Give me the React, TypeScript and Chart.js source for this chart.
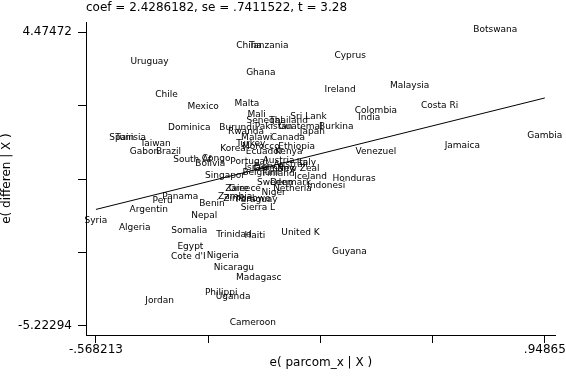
import React, { useEffect, useRef } from 'react';
import { Chart, registerables } from 'chart.js';

Chart.register(...registerables);

const countries = [
  'Botswana', 'China', 'Tanzania', 'Cyprus', 'Uruguay', 'Ghana', 'Ireland', 'Malaysia',
  'Chile', 'Mexico', 'Malta', 'Costa Ri', 'Colombia', 'India', 'Sri Lank', 'Mali',
  'Senegal', 'Thailand', 'Pakistan', 'Guatemal', 'Burkina', 'Dominica', 'Burundi', 'Rwanda',
  'Japan', 'Malawi', 'Canada', 'Spain', 'Tunisia', 'Gambia', 'Taiwan', 'Turkey',
  'Jamaica', 'Korea', 'Morocco', 'Ethiopia', 'Gabon', 'Brazil', 'Venezuel', 'Ecuador',
  'Kenya', 'South Af', 'Congo', 'Bolivia', 'Portugal', 'Austria', 'Italy', 'Australi',
  'France', 'Israel', 'Germany', 'New Zeal', 'Belgium', 'Finland', 'Singapor', 'Iceland',
  'Honduras', 'Sweden', 'Denmark', 'Indonesi', 'Greece', 'Zaire', 'Netherla', 'Niger',
  'Panama', 'Zambia', 'Zimbabwe', 'Paraguay', 'Peru', 'Benin', 'Sierra L', 'Argentin',
  'Nepal', 'Syria', 'Algeria', 'Somalia', 'United K', 'Trinidad', 'Haiti', 'Egypt',
  'Guyana', "Cote d'I", 'Nigeria', 'Nicaragu', 'Madagasc', 'Philippi', 'Uganda', 'Jordan',
  'Cameroon',
];

const residX = [
  0.781, -0.051, 0.016, 0.291, -0.387, -0.011, 0.257, 0.492,
  -0.330, -0.206, -0.058, 0.593, 0.378, 0.355, 0.150, -0.025,
  0.002, 0.083, 0.032, 0.123, 0.244, -0.253, -0.092, -0.061,
  0.163, -0.025, 0.080, -0.481, -0.451, 0.94865, -0.367, -0.045,
  0.670, -0.105, -0.011, 0.110, -0.404, -0.323, 0.378, 0.000,
  0.083, -0.243, -0.162, -0.182, -0.051, 0.049, 0.143, 0.0895,
  0.016, -0.025, 0.032, 0.116, -0.011, 0.049, -0.132, 0.157,
  0.304, 0.036, 0.0895, 0.210, -0.065, -0.092, 0.096, 0.032,
  -0.283, -0.098, -0.058, -0.025, -0.343, -0.176, -0.021, -0.390,
  -0.202, -0.568213, -0.437, -0.253, 0.123, -0.102, -0.031, -0.249,
  0.288, -0.256, -0.139, -0.102, -0.018, -0.145, -0.105, -0.353,
  -0.038,
];

const residY = [
  4.47472, 3.946, 3.946, 3.616, 3.418, 3.054, 2.493, 2.625,
  2.327, 1.931, 2.030, 1.964, 1.799, 1.567, 1.601, 1.667,
  1.468, 1.468, 1.270, 1.270, 1.270, 1.237, 1.237, 1.105,
  1.105, 0.907, 0.907, 0.907, 0.907, 0.973, 0.709, 0.709,
  0.643, 0.543, 0.610, 0.610, 0.445, 0.445, 0.445, 0.445,
  0.445, 0.180, 0.213, 0.048, 0.114, 0.147, 0.081, 0.015,
  -0.051, -0.084, -0.117, -0.117, -0.250, -0.283, -0.349, -0.382,
  -0.448, -0.580, -0.580, -0.679, -0.778, -0.778, -0.778, -0.910,
  -1.042, -1.042, -1.108, -1.141, -1.175, -1.274, -1.406, -1.472,
  -1.670, -1.835, -2.066, -2.166, -2.232, -2.298, -2.331, -2.694,
  -2.859, -3.025, -2.992, -3.388, -3.718, -4.214, -4.346, -4.478,
  -5.22294,
];

const fitX = [-0.568213, 0.94865];
const fitY = [-1.37997, 2.30391];

const xTickValues = [-0.568213, -0.188997, 0.190218, 0.569434, 0.94865];
const xTickLabels = ['-.568213', '', '', '', '.94865'];
const yTickValues = [-5.22294, -2.798525, -0.37411, 2.050305, 4.47472];
const yTickLabels = ['-5.22294', '', '', '', '4.47472'];

const titleText = 'coef = 2.4286182, se = .7411522, t = 3.28';
const xTitle = 'e( parcom_x | X )';
const yTitle = 'e( differen | X )';

const FONT = '"DejaVu Sans", sans-serif';

const labelPlugin = {
  id: 'countryLabels',
  afterDatasetsDraw(chart: any) {
    const meta = chart.getDatasetMeta(0);
    const ctx = chart.ctx;
    ctx.save();
    ctx.font = `9px ${FONT}`;
    ctx.fillStyle = '#000';
    ctx.textAlign = 'center';
    ctx.textBaseline = 'middle';
    meta.data.forEach((el: any, i: number) => {
      ctx.fillText(countries[i], el.x, el.y - 3);
    });
    ctx.restore();
  },
};

const titlePlugin = {
  id: 'topTitle',
  afterDraw(chart: any) {
    const ctx = chart.ctx;
    ctx.save();
    ctx.font = `12px ${FONT}`;
    ctx.fillStyle = '#000';
    ctx.textAlign = 'left';
    ctx.textBaseline = 'middle';
    ctx.fillText(titleText, chart.chartArea.left, 8);
    ctx.restore();
  },
};

export default function App() {
  const ref = useRef<HTMLCanvasElement | null>(null);

  useEffect(() => {
    document.body.style.margin = '0';
    const canvas = ref.current;
    if (!canvas) return;
    const chart = new Chart(canvas, {
      type: 'scatter',
      data: {
        datasets: [
          {
            data: countries.map((_, i) => ({ x: residX[i], y: residY[i] })),
            pointRadius: 0,
            pointHoverRadius: 0,
            backgroundColor: 'transparent',
            borderColor: 'transparent',
          },
          {
            type: 'line',
            data: fitX.map((x, i) => ({ x, y: fitY[i] })),
            borderColor: '#000',
            borderWidth: 1,
            pointRadius: 0,
            fill: false,
          } as any,
        ],
      },
      options: {
        animation: false,
        responsive: false,
        devicePixelRatio: 1,
        events: [],
        layout: { padding: { top: 22, right: 7, left: 0, bottom: 0 } },
        plugins: {
          legend: { display: false },
          tooltip: { enabled: false },
          title: { display: false },
        },
        scales: {
          x: {
            type: 'linear',
            min: -0.60177,
            max: 0.98545,
            afterFit: (scale: any) => {
              scale.height = 42;
            },
            afterBuildTicks: (scale: any) => {
              scale.ticks = xTickValues.map((value) => ({ value }));
            },
            ticks: {
              autoSkip: false,
              maxRotation: 0,
              padding: 0,
              color: '#000',
              font: { family: FONT, size: 12 },
              callback: (_v: any, i: number) => xTickLabels[i],
            },
            grid: {
              drawOnChartArea: false,
              drawTicks: true,
              tickLength: 8,
              color: '#000',
              lineWidth: 1,
            },
            border: { display: true, color: '#000', width: 1 },
            title: {
              display: true,
              text: xTitle,
              color: '#000',
              font: { family: FONT, size: 12 },
              padding: { top: 0, bottom: 7 },
            },
          },
          y: {
            type: 'linear',
            min: -5.5303,
            max: 4.8152,
            afterFit: (scale: any) => {
              scale.width = 86;
            },
            afterBuildTicks: (scale: any) => {
              scale.ticks = yTickValues.map((value) => ({ value }));
            },
            ticks: {
              autoSkip: false,
              padding: 6,
              color: '#000',
              font: { family: FONT, size: 12 },
              callback: (_v: any, i: number) => yTickLabels[i],
            },
            grid: {
              drawOnChartArea: false,
              drawTicks: true,
              tickLength: 8,
              color: '#000',
              lineWidth: 1,
            },
            border: { display: true, color: '#000', width: 1 },
            title: {
              display: true,
              text: yTitle,
              color: '#000',
              font: { family: FONT, size: 12 },
              padding: { top: 0, bottom: 0 },
            },
          },
        },
      },
      plugins: [labelPlugin, titlePlugin],
    });
    return () => chart.destroy();
  }, []);

  return (
    <div style={{ width: 566, height: 377, background: '#fff' }}>
      <canvas ref={ref} width={566} height={377} style={{ display: 'block', width: 566, height: 377 }} />
    </div>
  );
}
